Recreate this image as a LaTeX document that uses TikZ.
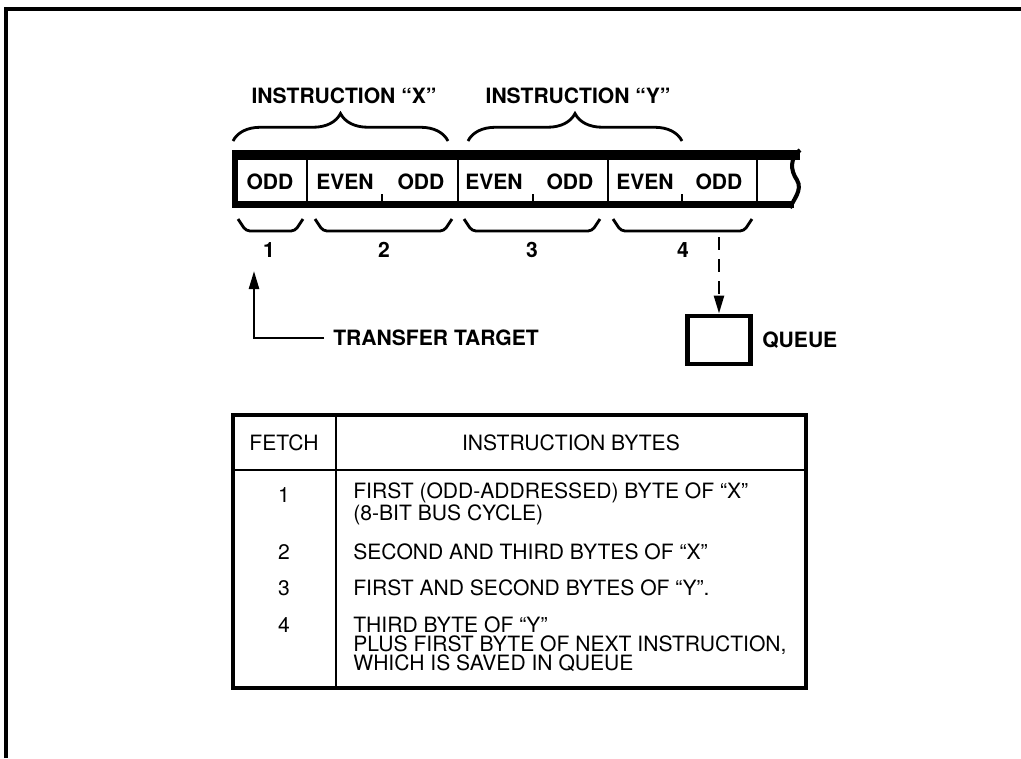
\documentclass[tikz,border=0pt]{standalone}
\usepackage{fontspec}
\setmainfont{TeX Gyre Heros}
\usepackage{tikz}
\usetikzlibrary{arrows.meta,positioning,decorations.pathreplacing}

\begin{document}
\begin{tikzpicture}[x=0.2mm, y=-0.2mm, font=\fontsize{12pt}{13pt}\selectfont\bfseries,
    >={Triangle[length=3.6mm, width=2mm]}]
  \useasboundingbox (0,0) rectangle (1021,758);
  % page frame
  \draw[line width=1.8pt] (6,758) -- (6,9) -- (1021,9);

  % byte strip
  \tikzstyle{lbl}=[inner sep=0pt]
  \tikzstyle{bracket}=[line width=1.6pt, rounded corners=0.8mm]
  \draw[line width=5.7pt] (232,155) -- (800,155);
  \draw[line width=4pt] (232,204.5) -- (794,204.5);
  \draw[line width=3.4pt] (235,150) -- (235,208);
  \foreach \x in {307,458,608,757}
    \draw[line width=1.7pt] (\x,158) -- (\x,203);
  \foreach \x in {382,533,682}
    \draw[line width=1.1pt] (\x,194) -- (\x,203);
  \draw[line width=2.3pt] (800,150) .. controls (790,158) and (790,170) .. (797,180)
    .. controls (803,190) and (793,200) .. (790,208);

  \node[lbl] (b1) at (270,182) {ODD};
  \node[lbl] (b2) at (345,182) {EVEN};
  \node[lbl] (b3) at (421,182) {ODD};
  \node[lbl] (b4) at (494,182) {EVEN};
  \node[lbl] (b5) at (570,182) {ODD};
  \node[lbl] (b6) at (645,182) {EVEN};
  \node[lbl] (b7) at (719,182) {ODD};

  % instructions above
  \node[lbl] (insx) at (344,96) {INSTRUCTION “X”};
  \node[lbl] (insy) at (578,96) {INSTRUCTION “Y”};
  \draw[line width=1.6pt, decorate, decoration={brace, amplitude=5.5mm}] (233,141) -- (448,141);
  \draw[line width=1.6pt, decorate, decoration={brace, amplitude=5.5mm}] (468,141) -- (682,141);

  % fetches below
  \foreach \a/\b in {238/303, 315/452, 464/600, 613/752}
    \draw[bracket] (\a,219) -- (\a+8,231) -- (\b-8,231) -- (\b,219);
  \node[lbl] (n1) at (269,250) {1};
  \node[lbl] (n2) at (384,250) {2};
  \node[lbl] (n3) at (532,250) {3};
  \node[lbl] (n4) at (683,250) {4};

  % transfer target
  \coordinate (tgt) at (254,271);
  \node[lbl, inner xsep=1.8mm, anchor=west] (tt) at (324,338) {TRANSFER TARGET};
  \draw[->, line width=1.4pt] (tt.west) -| (tgt);

  % queue
  \node[draw, line width=2.8pt, minimum width=12.6mm, minimum height=9.6mm, inner sep=0pt] (q) at (719,340) {};
  \node[lbl, right=1.8mm of q] (ql) {QUEUE};
  \coordinate (qsrc) at (719,237);
  \draw[->, line width=1.4pt, dash pattern=on 2.6mm off 1.8mm] (qsrc) -- (q.north);

  % table
  \draw[line width=2.2pt] (233,415) rectangle (806,688);
  \draw[line width=1.6pt] (336,415) -- (336,688);
  \draw[line width=1.6pt] (233,470) -- (806,470);
  \begin{scope}[font=\fontsize{12pt}{10.9pt}\selectfont\mdseries]
    \tikzstyle{row}=[inner sep=0pt, anchor=west, align=left]
    \node[lbl] (hf) at (284,443) {FETCH};
    \node[lbl] (hb) at (571,443) {INSTRUCTION BYTES};
    \node[lbl] (f1) at (284,495) {1};
    \node[lbl] (f2) at (284,552) {2};
    \node[lbl] (f3) at (284,588) {3};
    \node[lbl] (f4) at (284,625) {4};
    \node[row] (r1) at (353,504) {FIRST (ODD-ADDRESSED) BYTE OF “X”\\(8-BIT BUS CYCLE)};
    \node[row] (r2) at (353,552) {SECOND AND THIRD BYTES OF “X”};
    \node[row] (r3) at (353,588) {FIRST AND SECOND BYTES OF “Y”.};
    \node[row] (r4) at (353,644) {THIRD BYTE OF “Y”\\PLUS FIRST BYTE OF NEXT INSTRUCTION,\\WHICH IS SAVED IN QUEUE};
  \end{scope}
\end{tikzpicture}
\end{document}
